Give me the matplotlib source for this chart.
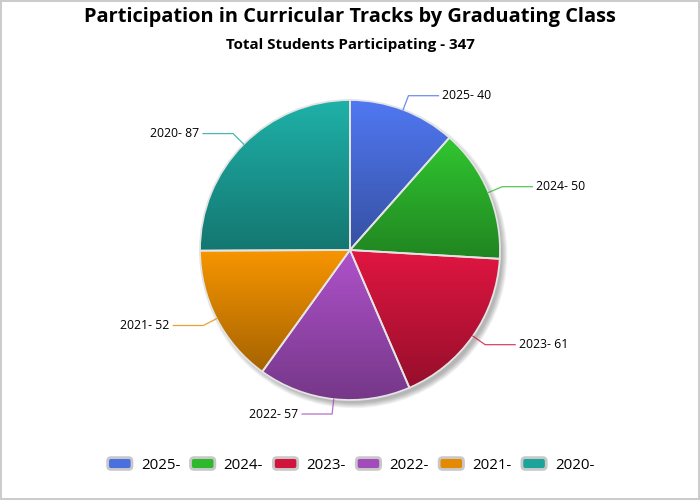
import numpy as np
import matplotlib.pyplot as plt
from matplotlib.colors import LinearSegmentedColormap, to_rgb
from matplotlib.patches import Patch, FancyBboxPatch, Circle
from matplotlib.legend_handler import HandlerPatch

plt.rcParams['font.family'] = ['Open Sans', 'DejaVu Sans']

years = ['2025', '2024', '2023', '2022', '2021', '2020']
counts = [40, 50, 61, 57, 52, 87]
colors = ['#4a6fe0', '#2db82d', '#d0143c', '#a24cbc', '#e58a00', '#1ca49c']

title = 'Participation in Curricular Tracks by Graduating Class'
subtitle = 'Total Students Participating - %d' % sum(counts)


def shade(c, f):
    r = np.array(to_rgb(c)) * f
    return tuple(np.clip(r, 0, 1))


fig = plt.figure(figsize=(7, 5), dpi=100, edgecolor='#cccccc', linewidth=1.5)
ax = fig.add_axes([0, 0, 1, 1])
ax.axis('off')

# soft shadow behind the pie
for i in range(8):
    ax.add_patch(Circle((0.025, -0.03), 0.99 + i * 0.005, color='black',
                        alpha=0.04, lw=0, zorder=1))

wedges, _ = ax.pie(counts, colors=colors, startangle=90, counterclock=False,
                   radius=1.0, center=(0, 0), frame=False,
                   wedgeprops=dict(edgecolor='#e4e4e4', linewidth=1.3, zorder=2))

for w, c in zip(wedges, colors):
    v = w.get_path().vertices
    y0, y1 = v[:, 1].min(), v[:, 1].max()
    cmap = LinearSegmentedColormap.from_list('g', [shade(c, 0.72), shade(c, 1.08)])
    grad = np.linspace(0, 1, 256).reshape(-1, 1)
    im = ax.imshow(grad, cmap=cmap, extent=(-1, 1, y0, y1), origin='lower',
                   aspect='auto', zorder=2.5, interpolation='bicubic')
    im.set_clip_path(w)
    w.set_zorder(3)
    w.set_facecolor('none')
ax.set_aspect('equal')
ax.set_xlim(-700 / 300, 700 / 300)
ax.set_ylim(-500 / 300, 500 / 300)

# labels with leader lines
for w, yr, n, c in zip(wedges, years, counts, colors):
    ang = np.deg2rad((w.theta1 + w.theta2) / 2)
    x0, y0 = np.cos(ang), np.sin(ang)
    x1, y1 = 1.1 * x0, 1.1 * y0
    side = 1 if x0 >= 0 else -1
    x2 = x1 + side * 0.2
    ax.plot([x0, x1, x2], [y0, y1, y1], color=c, lw=0.9, alpha=0.8, zorder=4)
    ax.text(x2 + side * 0.025, y1, '%s- %d' % (yr, n), fontsize=8.8,
            ha='left' if side > 0 else 'right', va='center', zorder=4)

fig.text(0.5, 1 - 17 / 500, title, ha='center', va='center',
         fontsize=14.4, fontweight='bold')
fig.text(0.5, 1 - 45 / 500, subtitle, ha='center', va='center',
         fontsize=10.9, fontweight='bold')


def rounded(legend, orig_handle, xdescent, ydescent, width, height, fontsize):
    h = 8.5
    return FancyBboxPatch((-xdescent + 1.5, -ydescent + height / 2 - h / 2), width - 3, h,
                          boxstyle='round,pad=0,rounding_size=2.5')


handles = [Patch(facecolor=c, edgecolor='#c8c8c8', linewidth=2) for c in colors]
leg = fig.legend(handles, [y + '-' for y in years], loc='center',
                 bbox_to_anchor=(0.5, 1 - 465 / 500), ncol=6, frameon=False,
                 fontsize=10.8, handlelength=1.9, handleheight=0.9,
                 handletextpad=0.45, columnspacing=0.55,
                 handler_map={Patch: HandlerPatch(patch_func=rounded)})

fig.savefig('out.png', dpi=100)
